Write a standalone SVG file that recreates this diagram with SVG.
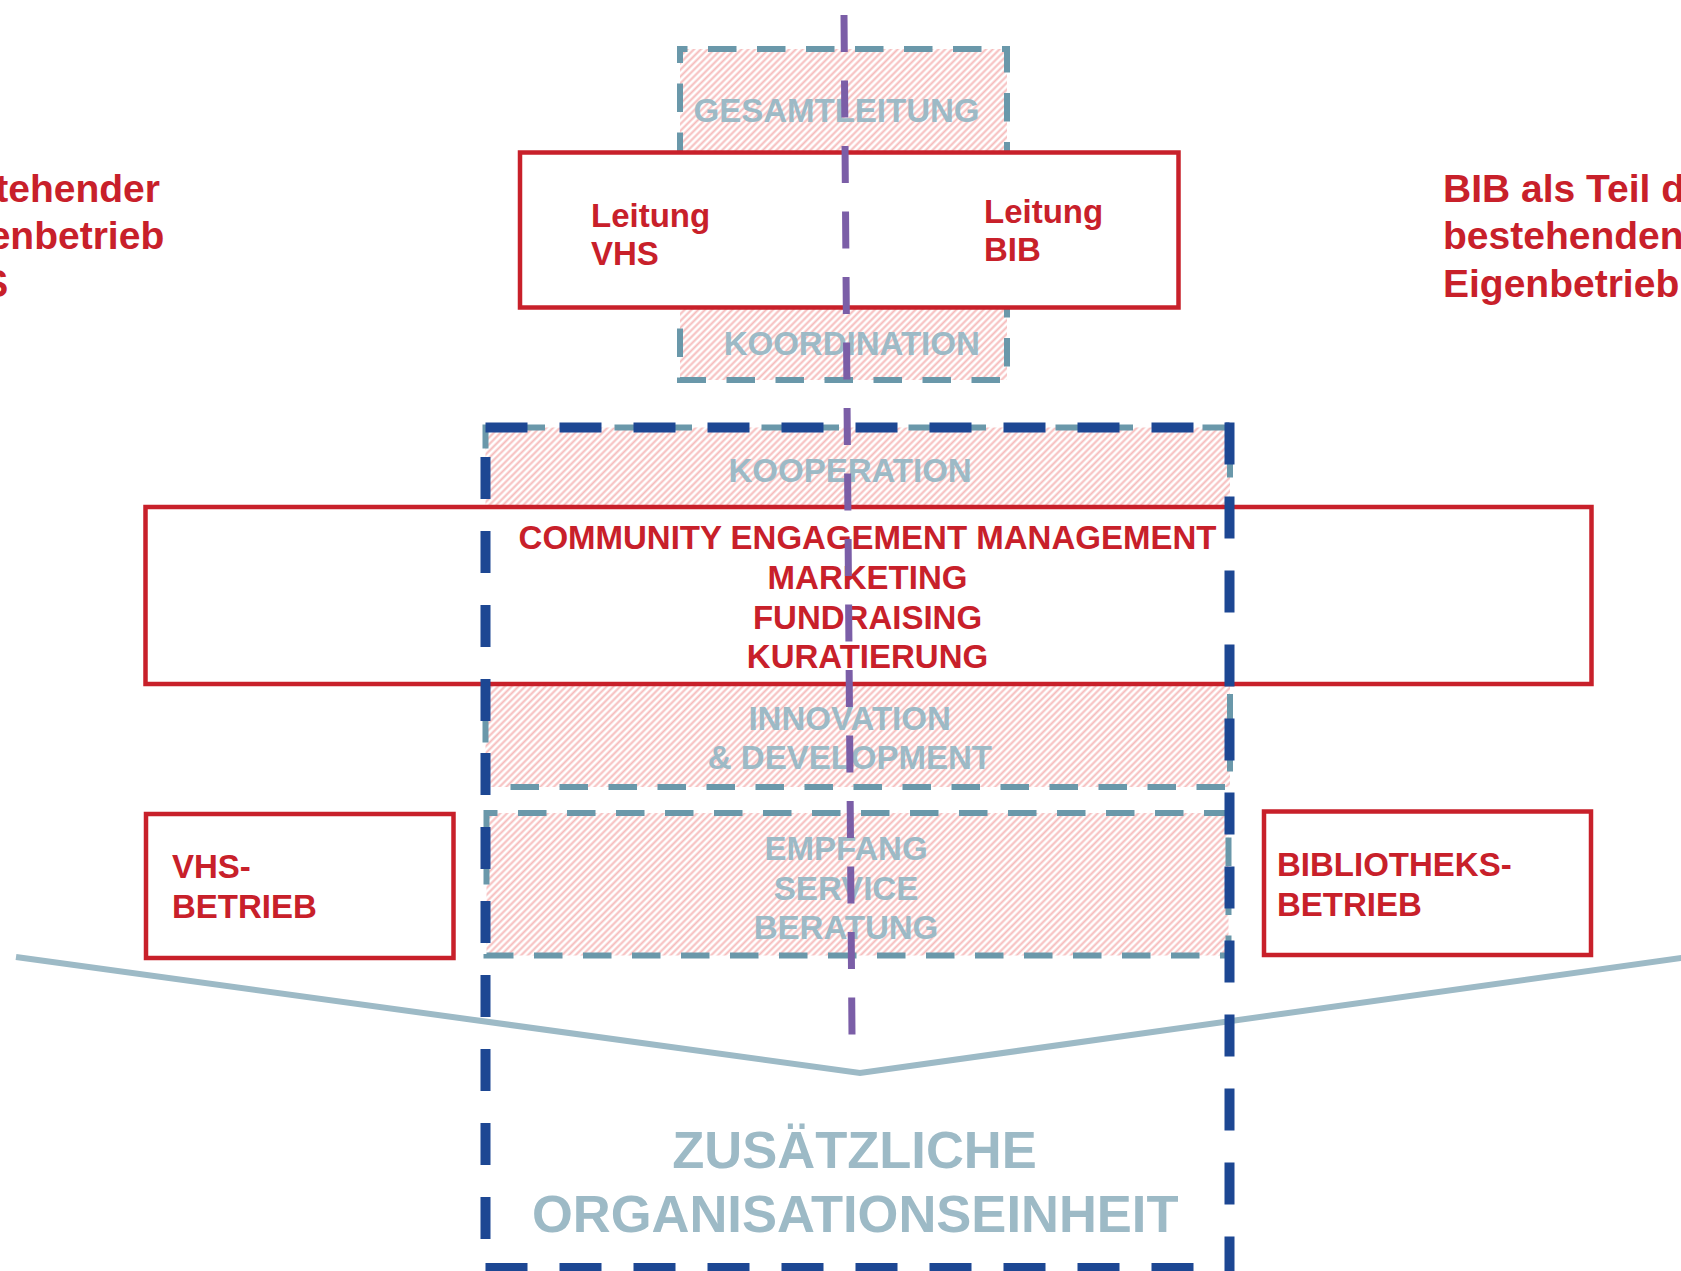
<svg xmlns="http://www.w3.org/2000/svg" width="1681" height="1271" viewBox="0 0 1681 1271">
  <defs>
    <pattern id="hatch" width="4.8" height="4.8" patternUnits="userSpaceOnUse" patternTransform="rotate(45)">
      <rect width="4.8" height="4.8" fill="#ffffff"/>
      <line x1="2.4" y1="0" x2="2.4" y2="4.8" stroke="#f6bcbc" stroke-width="2"/>
    </pattern>
    <style>
      text { font-family: "Liberation Sans", Arial, Helvetica, sans-serif; font-weight: bold; }
      .steel { fill: url(#hatch); stroke: #6a98aa; stroke-width: 6; stroke-dasharray: 28.5 20.5; }
      .redbox { fill: #ffffff; stroke: #c8202a; stroke-width: 4.5; }
      .red { fill: #c8202a; font-size: 33px; }
      .side { fill: #c8202a; font-size: 39px; }
      .grey { fill: #9dbac6; font-size: 33px; text-anchor: middle; }
      .big { fill: #9dbac6; font-size: 52.5px; text-anchor: middle; }
      .blue { stroke: #1d4793; stroke-width: 10; stroke-dasharray: 42 32; fill: none; }
      .divider { stroke: #7b5ea7; stroke-width: 7; stroke-dasharray: 37 28.5; fill: none; }
      .chev { stroke: #9dbac6; stroke-width: 6; fill: none; stroke-linejoin: miter; }
    </style>
  </defs>

  <rect width="1681" height="1271" fill="#ffffff"/>

  <!-- side texts (clipped by canvas) -->
  <g id="vhs-eigenbetrieb">
    <text class="side" x="-72" y="201.7">bestehender</text>
    <text class="side" x="-72" y="249.3">Eigenbetrieb</text>
    <text class="side" x="-72" y="296.7">VHS</text>
  </g>
  <g id="bib-eigenbetrieb">
    <text class="side" x="1443" y="201.7">BIB als Teil des</text>
    <text class="side" x="1443" y="249.3">bestehenden</text>
    <text class="side" x="1443" y="296.7">Eigenbetrieb</text>
  </g>

  <!-- hatched steel-dashed areas -->
  <g id="gesamtleitung">
    <rect class="steel" x="680" y="49" width="327" height="331" stroke-dashoffset="21"/>
    <text class="grey" x="836.5" y="121.7">GESAMTLEITUNG</text>
    <text class="grey" x="851.7" y="355">KOORDINATION</text>
  </g>
  <g id="kooperation">
    <rect class="steel" x="485.5" y="427.5" width="744.5" height="359.5" stroke-dashoffset="18"/>
    <text class="grey" x="850.1" y="481.7">KOOPERATION</text>
    <text class="grey" x="849.6" y="730">INNOVATION</text>
    <text class="grey" x="849.9" y="769.3">&amp; DEVELOPMENT</text>
  </g>
  <g id="empfang">
    <rect class="steel" x="486.5" y="813" width="742" height="142.5" stroke-dashoffset="17.5"/>
    <text class="grey" x="846" y="860">EMPFANG</text>
    <text class="grey" x="846" y="900">SERVICE</text>
    <text class="grey" x="846" y="939">BERATUNG</text>
  </g>

  <!-- red boxes -->
  <g id="leitung">
    <rect class="redbox" x="520" y="152.5" width="658.5" height="155"/>
    <text class="red" x="591" y="227">Leitung</text>
    <text class="red" x="591" y="265">VHS</text>
    <text class="red" x="984" y="222.5">Leitung</text>
    <text class="red" x="984" y="261">BIB</text>
  </g>
  <g id="community">
    <rect class="redbox" x="145.5" y="507" width="1446" height="177"/>
    <text class="red" x="867.5" y="549.3" text-anchor="middle">COMMUNITY ENGAGEMENT MANAGEMENT</text>
    <text class="red" x="867.5" y="589.3" text-anchor="middle">MARKETING</text>
    <text class="red" x="867.5" y="628.7" text-anchor="middle">FUNDRAISING</text>
    <text class="red" x="867.5" y="668.3" text-anchor="middle">KURATIERUNG</text>
  </g>
  <g id="vhs-betrieb">
    <rect class="redbox" x="146" y="814" width="307.5" height="144"/>
    <text class="red" x="172" y="878.3">VHS-</text>
    <text class="red" x="172" y="918.3">BETRIEB</text>
  </g>
  <g id="bibliotheks-betrieb">
    <rect class="redbox" x="1264" y="811.5" width="327" height="143.5"/>
    <text class="red" x="1277" y="876">BIBLIOTHEKS-</text>
    <text class="red" x="1277" y="915.7">BETRIEB</text>
  </g>

  <g id="chevron">
    <polyline class="chev" points="16,957 860,1073 1700,955.3"/>
  </g>

  <!-- additional organisational unit (dark blue dashed frame) -->
  <g id="zusaetzliche-organisationseinheit">
    <line class="blue" x1="485.5" y1="427.5" x2="1229.5" y2="427.5"/>
    <line class="blue" x1="1229.5" y1="422.5" x2="1229.5" y2="1275"/>
    <line class="blue" x1="485.5" y1="457" x2="485.5" y2="1275"/>
    <line class="blue" x1="485.5" y1="1268" x2="1229.5" y2="1268"/>
    <text class="big" x="854.5" y="1168">ZUSÄTZLICHE</text>
    <text class="big" x="855.2" y="1232">ORGANISATIONSEINHEIT</text>
  </g>

  <g id="connectors">
    <line class="divider" x1="844" y1="15" x2="852" y2="1035"/>
  </g>
</svg>
